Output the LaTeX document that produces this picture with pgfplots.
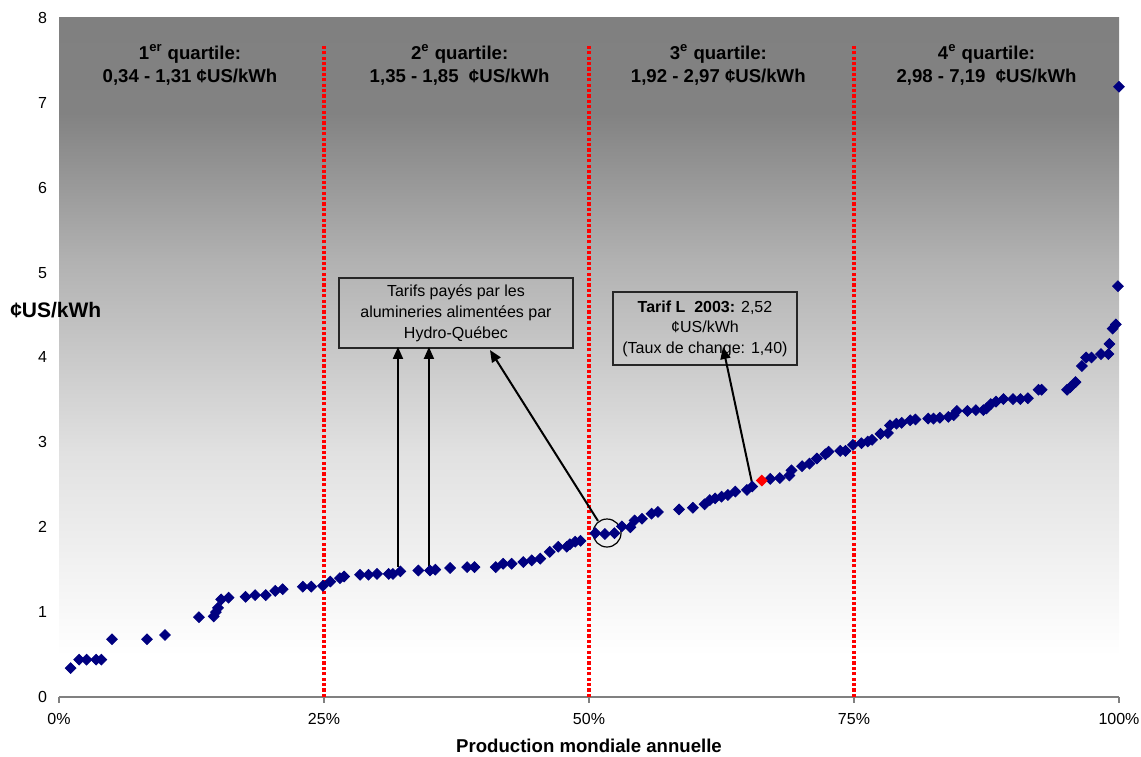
\documentclass[border=0pt]{standalone}
\usepackage{pgfplots}
\pgfplotsset{compat=1.18}
\usepackage{fontspec}
\setmainfont{Liberation Sans}
\usetikzlibrary{arrows.meta}
\definecolor{navymark}{RGB}{0,0,128}
\definecolor{g225}{RGB}{225,225,225}
\definecolor{g178}{RGB}{178,178,178}
\definecolor{g130}{RGB}{130,130,130}
\definecolor{g128}{RGB}{128,128,128}
\pgfdeclareverticalshading{bgshade}{100bp}{color(0bp)=(white); color(25bp)=(white); color(28bp)=(white); color(43bp)=(g225); color(57bp)=(g178); color(68bp)=(g130); color(75bp)=(g128); color(100bp)=(g128)}
\begin{document}
\begin{tikzpicture}
\begin{axis}[
  scale only axis, width=530pt, height=339.5pt,
  xmin=0, xmax=100, ymin=0, ymax=8,
  clip=false,
  axis background/.style={shading=bgshade},
  axis x line*=bottom, axis y line*=left,
  x axis line style={draw=g128, line width=1.25pt, -},
  y axis line style={draw=none, -},
  xtick={0,25,50,75,100},
  xticklabels={0\%,25\%,50\%,75\%,100\%},
  ytick={0,1,2,3,4,5,6,7,8},
  tick align=outside, major tick length=3pt,
  xtick style={draw=g128, line width=1pt},
  ytick style={draw=none},
  /pgf/number format/assume math mode=true,
  tick label style={font=\fontsize{8}{9.6}\selectfont},
  yticklabel style={xshift=0.5pt},
  xticklabel style={yshift=-1.5pt},
  xlabel={Production mondiale annuelle},
  xlabel style={font=\bfseries\fontsize{9.3}{11}\selectfont, at={(axis description cs:0.5,0)}, anchor=center, yshift=-24.5pt},
]
% data
\addplot[only marks, mark=square*, mark size=1.9pt, mark options={rotate=45, fill=navymark, draw=navymark}] coordinates {
(1.1,0.34) (1.9,0.44) (2.6,0.44) (3.5,0.44) (4.0,0.44) (5.0,0.68) (8.3,0.68) (10.0,0.73)
(13.2,0.94) (14.6,0.95) (14.8,1.00) (15.0,1.05) (15.3,1.15) (16.0,1.17) (17.6,1.18) (18.5,1.20)
(19.5,1.20) (20.4,1.25) (21.1,1.27) (23.0,1.30) (23.8,1.30) (24.9,1.31) (25.6,1.36) (26.5,1.40)
(26.9,1.42) (28.4,1.44) (29.2,1.44) (30.0,1.45) (31.1,1.45) (31.5,1.45) (32.2,1.48) (33.9,1.49)
(35.0,1.49) (35.5,1.50) (36.9,1.52) (38.5,1.53) (39.2,1.53) (41.2,1.53) (41.9,1.57) (42.7,1.57)
(43.8,1.59) (44.6,1.61) (45.4,1.63) (46.3,1.71) (47.1,1.77) (47.9,1.77) (48.2,1.80) (48.7,1.83)
(49.2,1.84) (50.6,1.93) (51.5,1.92) (52.4,1.93) (53.1,2.01) (53.9,2.00) (54.3,2.08) (55.0,2.10)
(55.9,2.16) (56.5,2.18) (58.5,2.21) (59.8,2.23) (60.9,2.27) (61.4,2.32) (61.9,2.34) (62.5,2.36)
(63.1,2.38) (63.8,2.42) (64.9,2.44) (65.4,2.48) (67.1,2.57) (68.0,2.58) (68.9,2.61) (69.1,2.67)
(70.1,2.72) (70.8,2.75) (71.5,2.81) (72.3,2.86) (72.6,2.89) (73.7,2.90) (74.2,2.90) (74.9,2.97)
(75.7,2.99) (76.3,3.01) (76.7,3.03) (77.5,3.10) (78.2,3.11) (78.4,3.20) (79.0,3.22) (79.5,3.23)
(80.3,3.26) (80.8,3.27) (82.0,3.28) (82.5,3.28) (83.1,3.29) (83.9,3.30) (84.4,3.32) (84.7,3.37)
(85.7,3.37) (86.5,3.38) (87.2,3.38) (87.5,3.40) (87.9,3.45) (88.4,3.48) (89.1,3.51) (90.0,3.51)
(90.7,3.51) (91.4,3.52) (92.4,3.62) (92.7,3.62) (95.1,3.62) (95.4,3.65) (95.9,3.71) (96.5,3.90)
(96.9,4.00) (97.4,4.00) (98.3,4.04) (99.0,4.04) (99.1,4.16) (99.4,4.34) (99.7,4.39) (99.9,4.84)
(100,7.19)
};
\addplot[only marks, mark=square*, mark size=1.9pt, mark options={rotate=45, fill=red, draw=red}] coordinates {(66.3,2.55)};
% quartile separators
\addplot[red, line width=2pt, dash pattern=on 1.6pt off 1.1pt, no marks] coordinates {(25,0) (25,7.68)};
\addplot[red, line width=2pt, dash pattern=on 1.6pt off 1.1pt, no marks] coordinates {(50,0) (50,7.68)};
\addplot[red, line width=2pt, dash pattern=on 1.6pt off 1.1pt, no marks] coordinates {(75,0) (75,7.68)};
% quartile labels
\node[align=center, font=\bfseries\fontsize{9.3}{11.5}\selectfont] at (axis cs:12.36,7.45) {1\textsuperscript{er} quartile:\\0,34 - 1,31 ¢US/kWh};
\node[align=center, font=\bfseries\fontsize{9.3}{11.5}\selectfont] at (axis cs:37.8,7.45) {2\textsuperscript{e} quartile:\\1,35 - 1,85~ ¢US/kWh};
\node[align=center, font=\bfseries\fontsize{9.3}{11.5}\selectfont] at (axis cs:62.2,7.45) {3\textsuperscript{e} quartile:\\1,92 - 2,97 ¢US/kWh};
\node[align=center, font=\bfseries\fontsize{9.3}{11.5}\selectfont] at (axis cs:87.5,7.45) {4\textsuperscript{e} quartile:\\2,98 - 7,19~ ¢US/kWh};
% annotation boxes
\node[draw=black!85, line width=0.9pt, align=center, minimum width=117pt, minimum height=35pt, inner sep=1pt, font=\fontsize{8}{10.5}\selectfont] at (axis cs:37.45,4.525) {Tarifs payés par les\\alumineries alimentées par\\Hydro-Québec};
\node[draw=black!85, line width=0.9pt, align=center, minimum width=92pt, minimum height=36.5pt, inner sep=1pt, font=\fontsize{8}{10.3}\selectfont] at (axis cs:60.94,4.342) {\textbf{Tarif L\ \ 2003:} 2,52\\¢US/kWh\\(Taux de change: 1,40)};
% arrows
\draw[black, line width=1pt, -{Triangle[width=5pt,length=6pt]}] (axis cs:31.98,1.532) -- (axis cs:31.98,4.124);
\draw[black, line width=1pt, -{Triangle[width=5pt,length=6pt]}] (axis cs:34.9,1.532) -- (axis cs:34.9,4.124);
\draw[black, line width=1pt, -{Triangle[width=5pt,length=6pt]}] (axis cs:50.85,2.074) -- (axis cs:40.66,4.088);
\draw[black, line width=1pt, -{Triangle[width=5pt,length=6pt]}] (axis cs:65.38,2.521) -- (axis cs:62.64,4.124);
\draw[black, line width=0.6pt] (axis cs:51.7,1.932) circle[radius=7pt];
% y label
\node[font=\bfseries\fontsize{10.5}{12}\selectfont] at (axis description cs:-0.003,0.57) {¢US/kWh};
\end{axis}
\pgfresetboundingbox
\path ([shift={(-29.5pt,-30pt)}]current axis.south west) rectangle ([shift={(11pt,9pt)}]current axis.north east);
\end{tikzpicture}
\end{document}
